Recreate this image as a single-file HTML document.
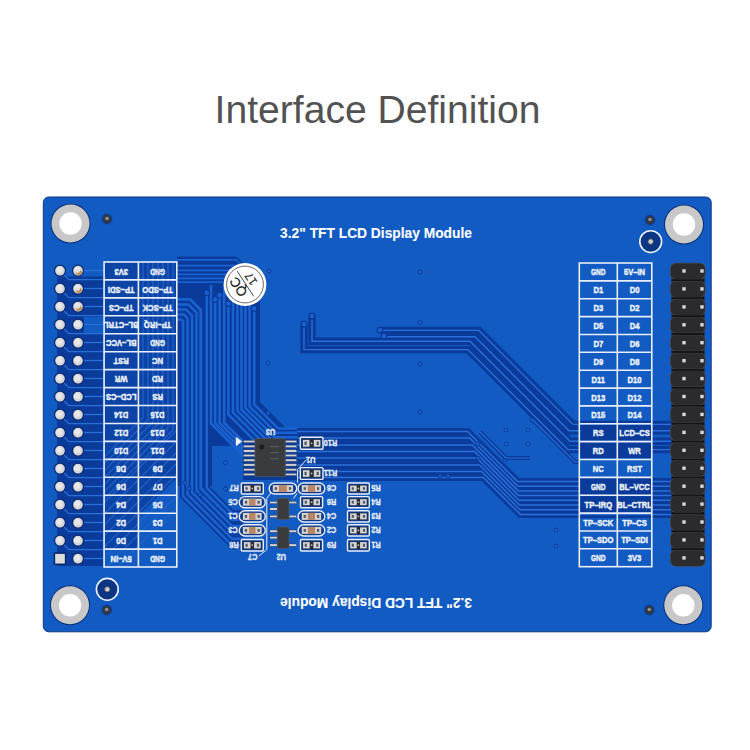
<!DOCTYPE html>
<html><head><meta charset="utf-8"><style>
html,body{margin:0;padding:0;background:#fff;width:750px;height:750px;overflow:hidden}
svg{display:block}
</style></head><body>
<svg width="750" height="750" viewBox="0 0 750 750">
<rect x="0" y="0" width="750" height="750" fill="#ffffff"/>
<text x="214.6" y="123" font-family="Liberation Sans" font-size="39.1" fill="#525252">Interface Definition</text>
<rect x="43.3" y="197.0" width="667.9" height="434.8" rx="5.5" fill="#125bc3" stroke="#0b3784" stroke-width="1.0"/>
<polygon points="57.0,276.5 103.0,276.5 103.0,566.0 57.0,566.0" fill="#0a3b9a"/>
<polygon points="84.0,317.0 103.0,317.0 103.0,334.0 84.0,334.0" fill="#125bc3"/>
<polygon points="177.0,256.5 236.0,256.5 252.0,271.0 260.0,290.0 260.0,402.0 287.0,429.0 300.0,429.0 300.0,480.0 243.0,480.0 243.0,446.0 212.0,446.0 212.0,486.0 177.0,486.0" fill="#0a3b9a"/>
<polyline points="206.8,292.8 206.8,488.0 232.0,513.2 244.0,513.2" fill="none" stroke="#0a3b9a" stroke-width="6.2" stroke-linejoin="miter" stroke-miterlimit="4" stroke-linecap="butt"/>
<polyline points="177.0,299.3 190.2,299.3 200.7,309.8 200.7,488.3 232.0,519.6 244.0,519.6" fill="none" stroke="#0a3b9a" stroke-width="6.2" stroke-linejoin="miter" stroke-miterlimit="4" stroke-linecap="butt"/>
<polyline points="177.0,304.4 188.3,304.4 196.5,312.6 196.5,490.5 232.0,526.0 244.0,526.0" fill="none" stroke="#0a3b9a" stroke-width="6.2" stroke-linejoin="miter" stroke-miterlimit="4" stroke-linecap="butt"/>
<polyline points="177.0,309.5 186.1,309.5 192.0,315.4 192.0,492.4 232.0,532.4 244.0,532.4" fill="none" stroke="#0a3b9a" stroke-width="6.2" stroke-linejoin="miter" stroke-miterlimit="4" stroke-linecap="butt"/>
<polyline points="177.0,314.6 183.9,314.6 187.5,318.2 187.5,494.3 232.0,538.8 244.0,538.8" fill="none" stroke="#0a3b9a" stroke-width="6.2" stroke-linejoin="miter" stroke-miterlimit="4" stroke-linecap="butt"/>
<polyline points="177.0,319.7 181.7,319.7 183.0,321.0 183.0,496.2 232.0,545.2 244.0,545.2" fill="none" stroke="#0a3b9a" stroke-width="6.2" stroke-linejoin="miter" stroke-miterlimit="4" stroke-linecap="butt"/>
<polyline points="254.2,308.4 254.2,404.4 278.2,428.4 300.0,428.4" fill="none" stroke="#1a62cf" stroke-width="2.5" stroke-linejoin="miter" stroke-miterlimit="4" stroke-linecap="butt"/>
<polyline points="249.6,285.0 249.6,406.4 276.1,432.8 300.0,432.8" fill="none" stroke="#1a62cf" stroke-width="2.5" stroke-linejoin="miter" stroke-miterlimit="4" stroke-linecap="butt"/>
<polyline points="245.4,285.0 245.4,408.0 274.7,437.3 300.0,437.3" fill="none" stroke="#1a62cf" stroke-width="2.5" stroke-linejoin="miter" stroke-miterlimit="4" stroke-linecap="butt"/>
<polyline points="241.4,285.0 241.4,409.4 273.8,441.8 300.0,441.8" fill="none" stroke="#1a62cf" stroke-width="2.5" stroke-linejoin="miter" stroke-miterlimit="4" stroke-linecap="butt"/>
<polyline points="237.4,285.0 237.4,410.8 272.8,446.2 300.0,446.2" fill="none" stroke="#1a62cf" stroke-width="2.5" stroke-linejoin="miter" stroke-miterlimit="4" stroke-linecap="butt"/>
<polyline points="233.0,285.0 233.0,412.6 271.1,450.6 300.0,450.6" fill="none" stroke="#1a62cf" stroke-width="2.5" stroke-linejoin="miter" stroke-miterlimit="4" stroke-linecap="butt"/>
<polyline points="228.4,303.6 228.4,414.6 268.9,455.1 300.0,455.1" fill="none" stroke="#1a62cf" stroke-width="2.5" stroke-linejoin="miter" stroke-miterlimit="4" stroke-linecap="butt"/>
<polyline points="224.2,285.0 224.2,422.7 243.0,441.5 250.0,441.5" fill="none" stroke="#1a62cf" stroke-width="2.5" stroke-linejoin="miter" stroke-miterlimit="4" stroke-linecap="butt"/>
<polyline points="219.6,295.2 219.6,422.9 243.0,446.3 250.0,446.3" fill="none" stroke="#1a62cf" stroke-width="2.5" stroke-linejoin="miter" stroke-miterlimit="4" stroke-linecap="butt"/>
<polyline points="215.2,299.4 215.2,423.2 243.0,451.0 250.0,451.0" fill="none" stroke="#1a62cf" stroke-width="2.5" stroke-linejoin="miter" stroke-miterlimit="4" stroke-linecap="butt"/>
<polyline points="211.0,285.0 211.0,423.5 243.0,455.5 250.0,455.5" fill="none" stroke="#1a62cf" stroke-width="2.5" stroke-linejoin="miter" stroke-miterlimit="4" stroke-linecap="butt"/>
<polyline points="206.8,292.8 206.8,488.0 232.0,513.2 244.0,513.2" fill="none" stroke="#1a62cf" stroke-width="2.5" stroke-linejoin="miter" stroke-miterlimit="4" stroke-linecap="butt"/>
<polyline points="177.0,299.3 190.2,299.3 200.7,309.8 200.7,488.3 232.0,519.6 244.0,519.6" fill="none" stroke="#1a62cf" stroke-width="2.8" stroke-linejoin="miter" stroke-miterlimit="4" stroke-linecap="butt"/>
<polyline points="177.0,304.4 188.3,304.4 196.5,312.6 196.5,490.5 232.0,526.0 244.0,526.0" fill="none" stroke="#1a62cf" stroke-width="2.5" stroke-linejoin="miter" stroke-miterlimit="4" stroke-linecap="butt"/>
<polyline points="177.0,309.5 186.1,309.5 192.0,315.4 192.0,492.4 232.0,532.4 244.0,532.4" fill="none" stroke="#1a62cf" stroke-width="2.5" stroke-linejoin="miter" stroke-miterlimit="4" stroke-linecap="butt"/>
<polyline points="177.0,314.6 183.9,314.6 187.5,318.2 187.5,494.3 232.0,538.8 244.0,538.8" fill="none" stroke="#1a62cf" stroke-width="2.5" stroke-linejoin="miter" stroke-miterlimit="4" stroke-linecap="butt"/>
<polyline points="177.0,319.7 181.7,319.7 183.0,321.0 183.0,496.2 232.0,545.2 244.0,545.2" fill="none" stroke="#1a62cf" stroke-width="2.5" stroke-linejoin="miter" stroke-miterlimit="4" stroke-linecap="butt"/>
<polyline points="177.0,259.8 236.0,259.8 254.2,278.0 254.2,300.0" fill="none" stroke="#1a62cf" stroke-width="1.7" stroke-linejoin="miter" stroke-miterlimit="4" stroke-linecap="butt"/>
<polyline points="177.0,265.6 236.0,265.6 249.6,279.2 249.6,300.0" fill="none" stroke="#1a62cf" stroke-width="1.7" stroke-linejoin="miter" stroke-miterlimit="4" stroke-linecap="butt"/>
<polyline points="177.0,270.4 236.0,270.4 245.4,279.8 245.4,300.0" fill="none" stroke="#1a62cf" stroke-width="1.7" stroke-linejoin="miter" stroke-miterlimit="4" stroke-linecap="butt"/>
<polyline points="177.0,274.4 236.0,274.4 241.4,279.8 241.4,300.0" fill="none" stroke="#1a62cf" stroke-width="1.7" stroke-linejoin="miter" stroke-miterlimit="4" stroke-linecap="butt"/>
<polyline points="177.0,278.4 236.0,278.4 237.4,279.8 237.4,300.0" fill="none" stroke="#1a62cf" stroke-width="1.7" stroke-linejoin="miter" stroke-miterlimit="4" stroke-linecap="butt"/>
<polyline points="177.0,282.2 236.0,282.2 233.0,279.2 233.0,300.0" fill="none" stroke="#1a62cf" stroke-width="1.7" stroke-linejoin="miter" stroke-miterlimit="4" stroke-linecap="butt"/>
<polyline points="297.0,431.5 467.5,431.5 517.5,481.5 672.0,481.5" fill="none" stroke="#0a3b9a" stroke-width="7.2" stroke-linejoin="miter" stroke-miterlimit="4" stroke-linecap="butt"/>
<polyline points="297.0,438.0 469.7,438.0 517.9,486.2 672.0,486.2" fill="none" stroke="#0a3b9a" stroke-width="7.2" stroke-linejoin="miter" stroke-miterlimit="4" stroke-linecap="butt"/>
<polyline points="297.0,445.0 472.4,445.0 518.3,490.9 672.0,490.9" fill="none" stroke="#0a3b9a" stroke-width="7.2" stroke-linejoin="miter" stroke-miterlimit="4" stroke-linecap="butt"/>
<polyline points="297.0,451.5 474.6,451.5 518.7,495.6 672.0,495.6" fill="none" stroke="#0a3b9a" stroke-width="7.2" stroke-linejoin="miter" stroke-miterlimit="4" stroke-linecap="butt"/>
<polyline points="297.0,458.0 476.8,458.0 519.1,500.3 672.0,500.3" fill="none" stroke="#0a3b9a" stroke-width="7.2" stroke-linejoin="miter" stroke-miterlimit="4" stroke-linecap="butt"/>
<polyline points="297.0,465.0 479.5,465.0 519.5,505.0 672.0,505.0" fill="none" stroke="#0a3b9a" stroke-width="7.2" stroke-linejoin="miter" stroke-miterlimit="4" stroke-linecap="butt"/>
<polyline points="297.0,471.5 481.7,471.5 519.9,509.7 672.0,509.7" fill="none" stroke="#0a3b9a" stroke-width="7.2" stroke-linejoin="miter" stroke-miterlimit="4" stroke-linecap="butt"/>
<polyline points="297.0,477.5 483.4,477.5 520.3,514.4 672.0,514.4" fill="none" stroke="#0a3b9a" stroke-width="7.2" stroke-linejoin="miter" stroke-miterlimit="4" stroke-linecap="butt"/>
<polyline points="297.0,431.5 467.5,431.5 517.5,481.5 672.0,481.5" fill="none" stroke="#2a70d8" stroke-width="1.5" stroke-linejoin="miter" stroke-miterlimit="4" stroke-linecap="butt"/>
<polyline points="297.0,438.0 469.7,438.0 517.9,486.2 672.0,486.2" fill="none" stroke="#2a70d8" stroke-width="1.5" stroke-linejoin="miter" stroke-miterlimit="4" stroke-linecap="butt"/>
<polyline points="297.0,445.0 472.4,445.0 518.3,490.9 672.0,490.9" fill="none" stroke="#2a70d8" stroke-width="1.5" stroke-linejoin="miter" stroke-miterlimit="4" stroke-linecap="butt"/>
<polyline points="297.0,451.5 474.6,451.5 518.7,495.6 672.0,495.6" fill="none" stroke="#2a70d8" stroke-width="1.5" stroke-linejoin="miter" stroke-miterlimit="4" stroke-linecap="butt"/>
<polyline points="297.0,458.0 476.8,458.0 519.1,500.3 672.0,500.3" fill="none" stroke="#2a70d8" stroke-width="1.5" stroke-linejoin="miter" stroke-miterlimit="4" stroke-linecap="butt"/>
<polyline points="297.0,465.0 479.5,465.0 519.5,505.0 672.0,505.0" fill="none" stroke="#2a70d8" stroke-width="1.5" stroke-linejoin="miter" stroke-miterlimit="4" stroke-linecap="butt"/>
<polyline points="297.0,471.5 481.7,471.5 519.9,509.7 672.0,509.7" fill="none" stroke="#2a70d8" stroke-width="1.5" stroke-linejoin="miter" stroke-miterlimit="4" stroke-linecap="butt"/>
<polyline points="297.0,477.5 483.4,477.5 520.3,514.4 672.0,514.4" fill="none" stroke="#2a70d8" stroke-width="1.5" stroke-linejoin="miter" stroke-miterlimit="4" stroke-linecap="butt"/>
<polyline points="380.0,330.4 479.0,330.4 573.0,424.4 672.0,424.4" fill="none" stroke="#0a3b9a" stroke-width="7.4" stroke-linejoin="miter" stroke-miterlimit="4" stroke-linecap="butt"/>
<polyline points="384.0,336.8 475.0,336.8 569.0,430.8 672.0,430.8" fill="none" stroke="#0a3b9a" stroke-width="7.4" stroke-linejoin="miter" stroke-miterlimit="4" stroke-linecap="butt"/>
<polyline points="312.0,316.0 312.0,341.2 470.0,341.2 570.0,441.2 672.0,441.2" fill="none" stroke="#0a3b9a" stroke-width="7.4" stroke-linejoin="miter" stroke-miterlimit="4" stroke-linecap="butt"/>
<polyline points="304.0,324.0 304.0,349.6 468.0,349.6 568.0,449.6 672.0,449.6" fill="none" stroke="#0a3b9a" stroke-width="7.4" stroke-linejoin="miter" stroke-miterlimit="4" stroke-linecap="butt"/>
<polyline points="380.0,330.4 479.0,330.4 573.0,424.4 672.0,424.4" fill="none" stroke="#2a70d8" stroke-width="1.4" stroke-linejoin="miter" stroke-miterlimit="4" stroke-linecap="butt"/>
<polyline points="384.0,336.8 475.0,336.8 569.0,430.8 672.0,430.8" fill="none" stroke="#2a70d8" stroke-width="1.4" stroke-linejoin="miter" stroke-miterlimit="4" stroke-linecap="butt"/>
<polyline points="312.0,316.0 312.0,341.2 470.0,341.2 570.0,441.2 672.0,441.2" fill="none" stroke="#2a70d8" stroke-width="1.4" stroke-linejoin="miter" stroke-miterlimit="4" stroke-linecap="butt"/>
<polyline points="304.0,324.0 304.0,349.6 468.0,349.6 568.0,449.6 672.0,449.6" fill="none" stroke="#2a70d8" stroke-width="1.4" stroke-linejoin="miter" stroke-miterlimit="4" stroke-linecap="butt"/>
<circle cx="206.8" cy="292.8" r="2.8" fill="#1a62cf" stroke="#0a3b9a" stroke-width="1.2"/>
<circle cx="215.2" cy="299.4" r="2.8" fill="#1a62cf" stroke="#0a3b9a" stroke-width="1.2"/>
<circle cx="219.6" cy="295.2" r="2.8" fill="#1a62cf" stroke="#0a3b9a" stroke-width="1.2"/>
<circle cx="228.4" cy="303.6" r="2.8" fill="#1a62cf" stroke="#0a3b9a" stroke-width="1.2"/>
<circle cx="254.2" cy="308.4" r="2.8" fill="#1a62cf" stroke="#0a3b9a" stroke-width="1.2"/>
<circle cx="312" cy="316" r="2.8" fill="#1a62cf" stroke="#0a3b9a" stroke-width="1.2"/>
<circle cx="304" cy="324" r="2.8" fill="#1a62cf" stroke="#0a3b9a" stroke-width="1.2"/>
<circle cx="380" cy="330" r="2.8" fill="#1a62cf" stroke="#0a3b9a" stroke-width="1.2"/>
<circle cx="384" cy="336" r="2.8" fill="#1a62cf" stroke="#0a3b9a" stroke-width="1.2"/>
<circle cx="420" cy="272" r="2.0" fill="#1a5fcc" stroke="#0b3d9c" stroke-width="1.0"/>
<circle cx="420" cy="322.5" r="2.0" fill="#1a5fcc" stroke="#0b3d9c" stroke-width="1.0"/>
<circle cx="420" cy="364" r="2.0" fill="#1a5fcc" stroke="#0b3d9c" stroke-width="1.0"/>
<circle cx="420" cy="412" r="2.0" fill="#1a5fcc" stroke="#0b3d9c" stroke-width="1.0"/>
<circle cx="506" cy="430" r="2.0" fill="#1a5fcc" stroke="#0b3d9c" stroke-width="1.0"/>
<circle cx="528" cy="430" r="2.0" fill="#1a5fcc" stroke="#0b3d9c" stroke-width="1.0"/>
<circle cx="506" cy="444" r="2.0" fill="#1a5fcc" stroke="#0b3d9c" stroke-width="1.0"/>
<circle cx="528" cy="444" r="2.0" fill="#1a5fcc" stroke="#0b3d9c" stroke-width="1.0"/>
<circle cx="556" cy="530" r="2.0" fill="#1a5fcc" stroke="#0b3d9c" stroke-width="1.0"/>
<circle cx="556" cy="546" r="2.0" fill="#1a5fcc" stroke="#0b3d9c" stroke-width="1.0"/>
<circle cx="532" cy="420" r="2.0" fill="#1a5fcc" stroke="#0b3d9c" stroke-width="1.0"/>
<circle cx="478" cy="444" r="2.0" fill="#1a5fcc" stroke="#0b3d9c" stroke-width="1.0"/>
<circle cx="478" cy="458" r="2.0" fill="#1a5fcc" stroke="#0b3d9c" stroke-width="1.0"/>
<circle cx="440" cy="476" r="2.0" fill="#1a5fcc" stroke="#0b3d9c" stroke-width="1.0"/>
<circle cx="448" cy="476" r="2.0" fill="#1a5fcc" stroke="#0b3d9c" stroke-width="1.0"/>
<circle cx="269" cy="271" r="2.0" fill="#1a5fcc" stroke="#0b3d9c" stroke-width="1.0"/>
<circle cx="268" cy="363" r="2.0" fill="#1a5fcc" stroke="#0b3d9c" stroke-width="1.0"/>
<circle cx="268" cy="413" r="2.0" fill="#1a5fcc" stroke="#0b3d9c" stroke-width="1.0"/>
<circle cx="225.5" cy="462.8" r="2.0" fill="#1a5fcc" stroke="#0b3d9c" stroke-width="1.0"/>
<circle cx="184.7" cy="482.7" r="2.0" fill="#1a5fcc" stroke="#0b3d9c" stroke-width="1.0"/>
<circle cx="189" cy="488.8" r="2.0" fill="#1a5fcc" stroke="#0b3d9c" stroke-width="1.0"/>
<circle cx="200.3" cy="494.8" r="2.0" fill="#1a5fcc" stroke="#0b3d9c" stroke-width="1.0"/>
<circle cx="225.5" cy="488.8" r="2.0" fill="#1a5fcc" stroke="#0b3d9c" stroke-width="1.0"/>
<circle cx="505" cy="459.5" r="2.0" fill="#1a5fcc" stroke="#0b3d9c" stroke-width="1.0"/>
<polyline points="533.0,420.0 575.0,462.0 579.0,462.0" fill="none" stroke="#0a3b9a" stroke-width="4.2" stroke-linejoin="miter" stroke-miterlimit="4" stroke-linecap="butt"/>
<polyline points="533.0,420.0 575.0,462.0 579.0,462.0" fill="none" stroke="#2a70d8" stroke-width="1.2" stroke-linejoin="miter" stroke-miterlimit="4" stroke-linecap="butt"/>
<polyline points="480.0,432.0 506.0,458.0 530.0,458.0" fill="none" stroke="#0a3b9a" stroke-width="4.2" stroke-linejoin="miter" stroke-miterlimit="4" stroke-linecap="butt"/>
<polyline points="480.0,432.0 506.0,458.0 530.0,458.0" fill="none" stroke="#2a70d8" stroke-width="1.2" stroke-linejoin="miter" stroke-miterlimit="4" stroke-linecap="butt"/>
<rect x="300.3" y="437.3" width="22.7" height="12.0" rx="1" fill="#0d3a8c" stroke="#e9eef8" stroke-width="1.4"/>
<rect x="302.3" y="439.4" width="18.7" height="7.8" fill="#2a2b30"/>
<rect x="302.9" y="439.9" width="6.6" height="6.8" fill="#d5d6d9"/>
<rect x="313.8" y="439.9" width="6.6" height="6.8" fill="#d5d6d9"/>
<rect x="304.5" y="441.5" width="2.2" height="3.6" fill="#55575c"/>
<rect x="316.6" y="441.5" width="2.2" height="3.6" fill="#55575c"/>
<circle cx="311.6" cy="443.3" r="0.9" fill="#bbb"/>
<text transform="translate(330.5,443.3) rotate(180) scale(0.85,1)" x="0" y="3.2" text-anchor="middle" font-family="Liberation Sans" font-weight="bold" font-size="8.8" fill="#e9eef8" stroke="#e9eef8" stroke-width="0.3">R10</text>
<rect x="300.3" y="467.6" width="22.7" height="11.8" rx="1" fill="#0d3a8c" stroke="#e9eef8" stroke-width="1.4"/>
<rect x="302.3" y="469.7" width="18.7" height="7.6" fill="#2a2b30"/>
<rect x="302.9" y="470.2" width="6.6" height="6.6" fill="#d5d6d9"/>
<rect x="313.8" y="470.2" width="6.6" height="6.6" fill="#d5d6d9"/>
<rect x="304.5" y="471.8" width="2.2" height="3.4" fill="#55575c"/>
<rect x="316.6" y="471.8" width="2.2" height="3.4" fill="#55575c"/>
<circle cx="311.6" cy="473.5" r="0.9" fill="#bbb"/>
<text transform="translate(330.5,473.5) rotate(180) scale(0.85,1)" x="0" y="3.2" text-anchor="middle" font-family="Liberation Sans" font-weight="bold" font-size="8.8" fill="#e9eef8" stroke="#e9eef8" stroke-width="0.3">R11</text>
<rect x="241.3" y="483.0" width="22.0" height="11.0" rx="1" fill="#0d3a8c" stroke="#e9eef8" stroke-width="1.4"/>
<rect x="243.3" y="485.1" width="18.0" height="6.8" fill="#2a2b30"/>
<rect x="243.9" y="485.6" width="6.6" height="5.8" fill="#d5d6d9"/>
<rect x="254.1" y="485.6" width="6.6" height="5.8" fill="#d5d6d9"/>
<rect x="245.5" y="487.2" width="2.2" height="2.6" fill="#55575c"/>
<rect x="256.9" y="487.2" width="2.2" height="2.6" fill="#55575c"/>
<circle cx="252.3" cy="488.5" r="0.9" fill="#bbb"/>
<text transform="translate(234.0,488.5) rotate(180) scale(0.85,1)" x="0" y="3.2" text-anchor="middle" font-family="Liberation Sans" font-weight="bold" font-size="8.8" fill="#e9eef8" stroke="#e9eef8" stroke-width="0.3">R7</text>
<rect x="269.2" y="483.0" width="27.5" height="11.0" rx="5.5" fill="#0d3a8c" stroke="#e9eef8" stroke-width="1.4"/>
<rect x="272.8" y="485.1" width="20.3" height="6.8" fill="#d3d1ce"/>
<rect x="279.0" y="485.1" width="7.9" height="6.8" fill="#b88666"/>
<rect x="274.8" y="487.2" width="2.2" height="2.6" fill="#55575c"/>
<rect x="288.9" y="487.2" width="2.2" height="2.6" fill="#55575c"/>
<rect x="298.1" y="483.0" width="26.7" height="11.0" rx="5.5" fill="#0d3a8c" stroke="#e9eef8" stroke-width="1.4"/>
<rect x="301.7" y="485.1" width="19.5" height="6.8" fill="#d3d1ce"/>
<rect x="307.9" y="485.1" width="7.1" height="6.8" fill="#b88666"/>
<rect x="303.7" y="487.2" width="2.2" height="2.6" fill="#55575c"/>
<rect x="317.0" y="487.2" width="2.2" height="2.6" fill="#55575c"/>
<text transform="translate(331.5,488.5) rotate(180) scale(0.85,1)" x="0" y="3.2" text-anchor="middle" font-family="Liberation Sans" font-weight="bold" font-size="8.8" fill="#e9eef8" stroke="#e9eef8" stroke-width="0.3">C6</text>
<rect x="347.5" y="483.0" width="21.8" height="11.0" rx="1" fill="#0d3a8c" stroke="#e9eef8" stroke-width="1.4"/>
<rect x="349.5" y="485.1" width="17.8" height="6.8" fill="#2a2b30"/>
<rect x="350.1" y="485.6" width="6.6" height="5.8" fill="#d5d6d9"/>
<rect x="360.1" y="485.6" width="6.6" height="5.8" fill="#d5d6d9"/>
<rect x="351.7" y="487.2" width="2.2" height="2.6" fill="#55575c"/>
<rect x="362.9" y="487.2" width="2.2" height="2.6" fill="#55575c"/>
<circle cx="358.4" cy="488.5" r="0.9" fill="#bbb"/>
<text transform="translate(376.0,488.5) rotate(180) scale(0.85,1)" x="0" y="3.2" text-anchor="middle" font-family="Liberation Sans" font-weight="bold" font-size="8.8" fill="#e9eef8" stroke="#e9eef8" stroke-width="0.3">R5</text>
<rect x="239.3" y="496.6" width="26.0" height="11.2" rx="5.6" fill="#0d3a8c" stroke="#e9eef8" stroke-width="1.4"/>
<rect x="242.9" y="498.7" width="18.8" height="7.0" fill="#d3d1ce"/>
<rect x="249.1" y="498.7" width="6.4" height="7.0" fill="#b88666"/>
<rect x="244.9" y="500.8" width="2.2" height="2.8" fill="#55575c"/>
<rect x="257.5" y="500.8" width="2.2" height="2.8" fill="#55575c"/>
<text transform="translate(233.0,502.2) rotate(180) scale(0.85,1)" x="0" y="3.2" text-anchor="middle" font-family="Liberation Sans" font-weight="bold" font-size="8.8" fill="#e9eef8" stroke="#e9eef8" stroke-width="0.3">C5</text>
<rect x="300.5" y="496.6" width="22.1" height="11.2" rx="1" fill="#0d3a8c" stroke="#e9eef8" stroke-width="1.4"/>
<rect x="302.5" y="498.7" width="18.1" height="7.0" fill="#2a2b30"/>
<rect x="303.1" y="499.2" width="6.6" height="6.0" fill="#d5d6d9"/>
<rect x="313.4" y="499.2" width="6.6" height="6.0" fill="#d5d6d9"/>
<rect x="304.7" y="500.8" width="2.2" height="2.8" fill="#55575c"/>
<rect x="316.2" y="500.8" width="2.2" height="2.8" fill="#55575c"/>
<circle cx="311.6" cy="502.2" r="0.9" fill="#bbb"/>
<text transform="translate(331.5,502.2) rotate(180) scale(0.85,1)" x="0" y="3.2" text-anchor="middle" font-family="Liberation Sans" font-weight="bold" font-size="8.8" fill="#e9eef8" stroke="#e9eef8" stroke-width="0.3">R6</text>
<rect x="347.5" y="496.6" width="21.8" height="11.2" rx="1" fill="#0d3a8c" stroke="#e9eef8" stroke-width="1.4"/>
<rect x="349.5" y="498.7" width="17.8" height="7.0" fill="#2a2b30"/>
<rect x="350.1" y="499.2" width="6.6" height="6.0" fill="#d5d6d9"/>
<rect x="360.1" y="499.2" width="6.6" height="6.0" fill="#d5d6d9"/>
<rect x="351.7" y="500.8" width="2.2" height="2.8" fill="#55575c"/>
<rect x="362.9" y="500.8" width="2.2" height="2.8" fill="#55575c"/>
<circle cx="358.4" cy="502.2" r="0.9" fill="#bbb"/>
<text transform="translate(376.0,502.2) rotate(180) scale(0.85,1)" x="0" y="3.2" text-anchor="middle" font-family="Liberation Sans" font-weight="bold" font-size="8.8" fill="#e9eef8" stroke="#e9eef8" stroke-width="0.3">R4</text>
<rect x="239.3" y="510.8" width="26.0" height="11.2" rx="5.6" fill="#0d3a8c" stroke="#e9eef8" stroke-width="1.4"/>
<rect x="242.9" y="512.9" width="18.8" height="7.0" fill="#d3d1ce"/>
<rect x="249.1" y="512.9" width="6.4" height="7.0" fill="#b88666"/>
<rect x="244.9" y="515.0" width="2.2" height="2.8" fill="#55575c"/>
<rect x="257.5" y="515.0" width="2.2" height="2.8" fill="#55575c"/>
<text transform="translate(233.0,516.4) rotate(180) scale(0.85,1)" x="0" y="3.2" text-anchor="middle" font-family="Liberation Sans" font-weight="bold" font-size="8.8" fill="#e9eef8" stroke="#e9eef8" stroke-width="0.3">C1</text>
<rect x="298.1" y="510.8" width="26.7" height="11.2" rx="5.6" fill="#0d3a8c" stroke="#e9eef8" stroke-width="1.4"/>
<rect x="301.7" y="512.9" width="19.5" height="7.0" fill="#d3d1ce"/>
<rect x="307.9" y="512.9" width="7.1" height="7.0" fill="#b88666"/>
<rect x="303.7" y="515.0" width="2.2" height="2.8" fill="#55575c"/>
<rect x="317.0" y="515.0" width="2.2" height="2.8" fill="#55575c"/>
<text transform="translate(331.5,516.4) rotate(180) scale(0.85,1)" x="0" y="3.2" text-anchor="middle" font-family="Liberation Sans" font-weight="bold" font-size="8.8" fill="#e9eef8" stroke="#e9eef8" stroke-width="0.3">C4</text>
<rect x="347.5" y="510.8" width="21.8" height="11.2" rx="1" fill="#0d3a8c" stroke="#e9eef8" stroke-width="1.4"/>
<rect x="349.5" y="512.9" width="17.8" height="7.0" fill="#2a2b30"/>
<rect x="350.1" y="513.4" width="6.6" height="6.0" fill="#d5d6d9"/>
<rect x="360.1" y="513.4" width="6.6" height="6.0" fill="#d5d6d9"/>
<rect x="351.7" y="515.0" width="2.2" height="2.8" fill="#55575c"/>
<rect x="362.9" y="515.0" width="2.2" height="2.8" fill="#55575c"/>
<circle cx="358.4" cy="516.4" r="0.9" fill="#bbb"/>
<text transform="translate(376.0,516.4) rotate(180) scale(0.85,1)" x="0" y="3.2" text-anchor="middle" font-family="Liberation Sans" font-weight="bold" font-size="8.8" fill="#e9eef8" stroke="#e9eef8" stroke-width="0.3">R3</text>
<rect x="239.3" y="524.8" width="26.0" height="11.2" rx="5.6" fill="#0d3a8c" stroke="#e9eef8" stroke-width="1.4"/>
<rect x="242.9" y="526.9" width="18.8" height="7.0" fill="#d3d1ce"/>
<rect x="249.1" y="526.9" width="6.4" height="7.0" fill="#b88666"/>
<rect x="244.9" y="529.0" width="2.2" height="2.8" fill="#55575c"/>
<rect x="257.5" y="529.0" width="2.2" height="2.8" fill="#55575c"/>
<text transform="translate(233.0,530.4) rotate(180) scale(0.85,1)" x="0" y="3.2" text-anchor="middle" font-family="Liberation Sans" font-weight="bold" font-size="8.8" fill="#e9eef8" stroke="#e9eef8" stroke-width="0.3">C3</text>
<rect x="298.1" y="524.8" width="26.7" height="11.2" rx="5.6" fill="#0d3a8c" stroke="#e9eef8" stroke-width="1.4"/>
<rect x="301.7" y="526.9" width="19.5" height="7.0" fill="#d3d1ce"/>
<rect x="307.9" y="526.9" width="7.1" height="7.0" fill="#b88666"/>
<rect x="303.7" y="529.0" width="2.2" height="2.8" fill="#55575c"/>
<rect x="317.0" y="529.0" width="2.2" height="2.8" fill="#55575c"/>
<text transform="translate(331.5,530.4) rotate(180) scale(0.85,1)" x="0" y="3.2" text-anchor="middle" font-family="Liberation Sans" font-weight="bold" font-size="8.8" fill="#e9eef8" stroke="#e9eef8" stroke-width="0.3">C2</text>
<rect x="347.5" y="524.8" width="21.8" height="11.2" rx="1" fill="#0d3a8c" stroke="#e9eef8" stroke-width="1.4"/>
<rect x="349.5" y="526.9" width="17.8" height="7.0" fill="#2a2b30"/>
<rect x="350.1" y="527.4" width="6.6" height="6.0" fill="#d5d6d9"/>
<rect x="360.1" y="527.4" width="6.6" height="6.0" fill="#d5d6d9"/>
<rect x="351.7" y="529.0" width="2.2" height="2.8" fill="#55575c"/>
<rect x="362.9" y="529.0" width="2.2" height="2.8" fill="#55575c"/>
<circle cx="358.4" cy="530.4" r="0.9" fill="#bbb"/>
<text transform="translate(376.0,530.4) rotate(180) scale(0.85,1)" x="0" y="3.2" text-anchor="middle" font-family="Liberation Sans" font-weight="bold" font-size="8.8" fill="#e9eef8" stroke="#e9eef8" stroke-width="0.3">R2</text>
<rect x="241.3" y="539.5" width="22.0" height="11.5" rx="1" fill="#0d3a8c" stroke="#e9eef8" stroke-width="1.4"/>
<rect x="243.3" y="541.6" width="18.0" height="7.3" fill="#2a2b30"/>
<rect x="243.9" y="542.1" width="6.6" height="6.3" fill="#d5d6d9"/>
<rect x="254.1" y="542.1" width="6.6" height="6.3" fill="#d5d6d9"/>
<rect x="245.5" y="543.7" width="2.2" height="3.1" fill="#55575c"/>
<rect x="256.9" y="543.7" width="2.2" height="3.1" fill="#55575c"/>
<circle cx="252.3" cy="545.2" r="0.9" fill="#bbb"/>
<text transform="translate(234.0,545.2) rotate(180) scale(0.85,1)" x="0" y="3.2" text-anchor="middle" font-family="Liberation Sans" font-weight="bold" font-size="8.8" fill="#e9eef8" stroke="#e9eef8" stroke-width="0.3">R8</text>
<rect x="300.5" y="539.5" width="22.1" height="11.5" rx="1" fill="#0d3a8c" stroke="#e9eef8" stroke-width="1.4"/>
<rect x="302.5" y="541.6" width="18.1" height="7.3" fill="#2a2b30"/>
<rect x="303.1" y="542.1" width="6.6" height="6.3" fill="#d5d6d9"/>
<rect x="313.4" y="542.1" width="6.6" height="6.3" fill="#d5d6d9"/>
<rect x="304.7" y="543.7" width="2.2" height="3.1" fill="#55575c"/>
<rect x="316.2" y="543.7" width="2.2" height="3.1" fill="#55575c"/>
<circle cx="311.6" cy="545.2" r="0.9" fill="#bbb"/>
<text transform="translate(331.5,545.2) rotate(180) scale(0.85,1)" x="0" y="3.2" text-anchor="middle" font-family="Liberation Sans" font-weight="bold" font-size="8.8" fill="#e9eef8" stroke="#e9eef8" stroke-width="0.3">R9</text>
<rect x="347.5" y="539.5" width="21.8" height="11.5" rx="1" fill="#0d3a8c" stroke="#e9eef8" stroke-width="1.4"/>
<rect x="349.5" y="541.6" width="17.8" height="7.3" fill="#2a2b30"/>
<rect x="350.1" y="542.1" width="6.6" height="6.3" fill="#d5d6d9"/>
<rect x="360.1" y="542.1" width="6.6" height="6.3" fill="#d5d6d9"/>
<rect x="351.7" y="543.7" width="2.2" height="3.1" fill="#55575c"/>
<rect x="362.9" y="543.7" width="2.2" height="3.1" fill="#55575c"/>
<circle cx="358.4" cy="545.2" r="0.9" fill="#bbb"/>
<text transform="translate(376.0,545.2) rotate(180) scale(0.85,1)" x="0" y="3.2" text-anchor="middle" font-family="Liberation Sans" font-weight="bold" font-size="8.8" fill="#e9eef8" stroke="#e9eef8" stroke-width="0.3">R1</text>
<text transform="translate(252.7,557.0) rotate(180) scale(0.85,1)" x="0" y="3.2" text-anchor="middle" font-family="Liberation Sans" font-weight="bold" font-size="8.8" fill="#e9eef8" stroke="#e9eef8" stroke-width="0.3">C7</text>
<text transform="translate(281.3,557.0) rotate(180) scale(0.85,1)" x="0" y="3.2" text-anchor="middle" font-family="Liberation Sans" font-weight="bold" font-size="8.8" fill="#e9eef8" stroke="#e9eef8" stroke-width="0.3">U2</text>
<text transform="translate(310.8,459.8) rotate(180) scale(0.85,1)" x="0" y="3.2" text-anchor="middle" font-family="Liberation Sans" font-weight="bold" font-size="8.8" fill="#e9eef8" stroke="#e9eef8" stroke-width="0.3">U1</text>
<text transform="translate(270.5,432.3) rotate(180) scale(0.85,1)" x="0" y="3.2" text-anchor="middle" font-family="Liberation Sans" font-weight="bold" font-size="8.8" fill="#e9eef8" stroke="#e9eef8" stroke-width="0.3">U3</text>
<polyline points="306.5,459.5 297.6,469.5 297.6,482.5" fill="none" stroke="#e9eef8" stroke-width="1.0" stroke-linejoin="miter" stroke-miterlimit="4" stroke-linecap="butt"/>
<polyline points="297.0,493.5 293.5,498.5" fill="none" stroke="#e9eef8" stroke-width="1.0" stroke-linejoin="miter" stroke-miterlimit="4" stroke-linecap="butt"/>
<polyline points="270.8,493.2 266.8,498.2 266.8,549.5 259.0,556.0" fill="none" stroke="#e9eef8" stroke-width="1.0" stroke-linejoin="miter" stroke-miterlimit="4" stroke-linecap="butt"/>
<rect x="243.5" y="440.3" width="11.5" height="2.4" fill="#d0d0d0" stroke="#1a2a50" stroke-width="0.4"/>
<rect x="243.5" y="445.1" width="11.5" height="2.4" fill="#d0d0d0" stroke="#1a2a50" stroke-width="0.4"/>
<rect x="243.5" y="449.8" width="11.5" height="2.4" fill="#d0d0d0" stroke="#1a2a50" stroke-width="0.4"/>
<rect x="243.5" y="454.3" width="11.5" height="2.4" fill="#d0d0d0" stroke="#1a2a50" stroke-width="0.4"/>
<rect x="243.5" y="459.0" width="11.5" height="2.4" fill="#d0d0d0" stroke="#1a2a50" stroke-width="0.4"/>
<rect x="243.5" y="463.7" width="11.5" height="2.4" fill="#d0d0d0" stroke="#1a2a50" stroke-width="0.4"/>
<rect x="243.5" y="468.5" width="11.5" height="2.4" fill="#d0d0d0" stroke="#1a2a50" stroke-width="0.4"/>
<rect x="243.5" y="473.2" width="11.5" height="2.4" fill="#d0d0d0" stroke="#1a2a50" stroke-width="0.4"/>
<rect x="285.2" y="440.3" width="11.5" height="2.4" fill="#d0d0d0" stroke="#1a2a50" stroke-width="0.4"/>
<rect x="285.2" y="445.1" width="11.5" height="2.4" fill="#d0d0d0" stroke="#1a2a50" stroke-width="0.4"/>
<rect x="285.2" y="449.8" width="11.5" height="2.4" fill="#d0d0d0" stroke="#1a2a50" stroke-width="0.4"/>
<rect x="285.2" y="454.3" width="11.5" height="2.4" fill="#d0d0d0" stroke="#1a2a50" stroke-width="0.4"/>
<rect x="285.2" y="459.0" width="11.5" height="2.4" fill="#d0d0d0" stroke="#1a2a50" stroke-width="0.4"/>
<rect x="285.2" y="463.7" width="11.5" height="2.4" fill="#d0d0d0" stroke="#1a2a50" stroke-width="0.4"/>
<rect x="285.2" y="468.5" width="11.5" height="2.4" fill="#d0d0d0" stroke="#1a2a50" stroke-width="0.4"/>
<rect x="285.2" y="473.2" width="11.5" height="2.4" fill="#d0d0d0" stroke="#1a2a50" stroke-width="0.4"/>
<rect x="255.0" y="438.5" width="30.2" height="38.2" rx="0.8" fill="#3a3b3f" stroke="#5a5c62" stroke-width="0.6"/>
<circle cx="261.8" cy="447.1" r="2.5" fill="#1c1d20"/>
<polygon points="235.9,436.8 235.9,446.3 242.2,441.5" fill="#f2f4f8"/>
<rect x="270.0" y="446.0" width="9" height="1.2" fill="#55575c"/>
<rect x="270.0" y="452.0" width="9" height="1.2" fill="#55575c"/>
<rect x="270.0" y="458.0" width="9" height="1.2" fill="#55575c"/>
<rect x="269.8" y="501.3" width="7.5" height="2.4" fill="#d0d0d0" stroke="#1a2a50" stroke-width="0.4"/>
<rect x="269.8" y="507.8" width="7.5" height="2.4" fill="#d0d0d0" stroke="#1a2a50" stroke-width="0.4"/>
<rect x="269.8" y="515.2" width="7.5" height="2.4" fill="#d0d0d0" stroke="#1a2a50" stroke-width="0.4"/>
<rect x="289.0" y="501.3" width="7.5" height="2.4" fill="#d0d0d0" stroke="#1a2a50" stroke-width="0.4"/>
<rect x="289.0" y="515.2" width="7.5" height="2.4" fill="#d0d0d0" stroke="#1a2a50" stroke-width="0.4"/>
<rect x="277.3" y="498.3" width="11.7" height="21.3" rx="0.8" fill="#3a3b3f" stroke="#5a5c62" stroke-width="0.6"/>
<rect x="269.8" y="530.0" width="7.5" height="2.4" fill="#d0d0d0" stroke="#1a2a50" stroke-width="0.4"/>
<rect x="269.8" y="536.5" width="7.5" height="2.4" fill="#d0d0d0" stroke="#1a2a50" stroke-width="0.4"/>
<rect x="269.8" y="543.9" width="7.5" height="2.4" fill="#d0d0d0" stroke="#1a2a50" stroke-width="0.4"/>
<rect x="289.0" y="530.0" width="7.5" height="2.4" fill="#d0d0d0" stroke="#1a2a50" stroke-width="0.4"/>
<rect x="289.0" y="543.9" width="7.5" height="2.4" fill="#d0d0d0" stroke="#1a2a50" stroke-width="0.4"/>
<rect x="277.3" y="527.0" width="11.7" height="21.4" rx="0.8" fill="#3a3b3f" stroke="#5a5c62" stroke-width="0.6"/>
<g transform="translate(245,284.5)"><circle r="21.4" fill="#ffffff"/><circle r="18.4" fill="none" stroke="#444" stroke-width="0.8"/><line x1="-7.7" y1="-13.2" x2="8.7" y2="11.8" stroke="#333" stroke-width="0.9"/><text transform="rotate(-124)" x="1.7" y="-2.2" text-anchor="middle" font-family="Liberation Sans" font-size="13.5" fill="#222" stroke="#222" stroke-width="0.2">QC</text><text transform="rotate(-124)" x="1.2" y="12" text-anchor="middle" font-family="Liberation Sans" font-size="11.5" fill="#222" stroke="#222" stroke-width="0.2">17</text></g>
<polyline points="77.6,270.5 104.0,270.5" fill="none" stroke="#2a6fd6" stroke-width="1.3" stroke-linejoin="miter" stroke-miterlimit="4" stroke-linecap="butt"/>
<polyline points="59.6,270.5 68.8,279.7 104.0,279.7" fill="none" stroke="#2a6fd6" stroke-width="1.3" stroke-linejoin="miter" stroke-miterlimit="4" stroke-linecap="butt"/>
<polyline points="77.6,288.5 104.0,288.5" fill="none" stroke="#2a6fd6" stroke-width="1.3" stroke-linejoin="miter" stroke-miterlimit="4" stroke-linecap="butt"/>
<polyline points="59.6,288.5 68.8,297.7 104.0,297.7" fill="none" stroke="#2a6fd6" stroke-width="1.3" stroke-linejoin="miter" stroke-miterlimit="4" stroke-linecap="butt"/>
<polyline points="77.6,306.5 104.0,306.5" fill="none" stroke="#2a6fd6" stroke-width="1.3" stroke-linejoin="miter" stroke-miterlimit="4" stroke-linecap="butt"/>
<polyline points="59.6,306.5 68.8,315.7 104.0,315.7" fill="none" stroke="#2a6fd6" stroke-width="1.3" stroke-linejoin="miter" stroke-miterlimit="4" stroke-linecap="butt"/>
<polyline points="77.6,324.5 104.0,324.5" fill="none" stroke="#2a6fd6" stroke-width="1.3" stroke-linejoin="miter" stroke-miterlimit="4" stroke-linecap="butt"/>
<polyline points="59.6,324.5 68.8,333.7 104.0,333.7" fill="none" stroke="#2a6fd6" stroke-width="1.3" stroke-linejoin="miter" stroke-miterlimit="4" stroke-linecap="butt"/>
<polyline points="77.6,342.5 104.0,342.5" fill="none" stroke="#2a6fd6" stroke-width="1.3" stroke-linejoin="miter" stroke-miterlimit="4" stroke-linecap="butt"/>
<polyline points="59.6,342.5 68.8,351.7 104.0,351.7" fill="none" stroke="#2a6fd6" stroke-width="1.3" stroke-linejoin="miter" stroke-miterlimit="4" stroke-linecap="butt"/>
<polyline points="77.6,360.5 104.0,360.5" fill="none" stroke="#2a6fd6" stroke-width="1.3" stroke-linejoin="miter" stroke-miterlimit="4" stroke-linecap="butt"/>
<polyline points="59.6,360.5 68.8,369.7 104.0,369.7" fill="none" stroke="#2a6fd6" stroke-width="1.3" stroke-linejoin="miter" stroke-miterlimit="4" stroke-linecap="butt"/>
<polyline points="77.6,378.5 104.0,378.5" fill="none" stroke="#2a6fd6" stroke-width="1.3" stroke-linejoin="miter" stroke-miterlimit="4" stroke-linecap="butt"/>
<polyline points="59.6,378.5 68.8,387.7 104.0,387.7" fill="none" stroke="#2a6fd6" stroke-width="1.3" stroke-linejoin="miter" stroke-miterlimit="4" stroke-linecap="butt"/>
<polyline points="77.6,396.5 104.0,396.5" fill="none" stroke="#2a6fd6" stroke-width="1.3" stroke-linejoin="miter" stroke-miterlimit="4" stroke-linecap="butt"/>
<polyline points="59.6,396.5 68.8,405.7 104.0,405.7" fill="none" stroke="#2a6fd6" stroke-width="1.3" stroke-linejoin="miter" stroke-miterlimit="4" stroke-linecap="butt"/>
<polyline points="77.6,414.5 104.0,414.5" fill="none" stroke="#2a6fd6" stroke-width="1.3" stroke-linejoin="miter" stroke-miterlimit="4" stroke-linecap="butt"/>
<polyline points="59.6,414.5 68.8,423.7 104.0,423.7" fill="none" stroke="#2a6fd6" stroke-width="1.3" stroke-linejoin="miter" stroke-miterlimit="4" stroke-linecap="butt"/>
<polyline points="77.6,432.5 104.0,432.5" fill="none" stroke="#2a6fd6" stroke-width="1.3" stroke-linejoin="miter" stroke-miterlimit="4" stroke-linecap="butt"/>
<polyline points="59.6,432.5 68.8,441.7 104.0,441.7" fill="none" stroke="#2a6fd6" stroke-width="1.3" stroke-linejoin="miter" stroke-miterlimit="4" stroke-linecap="butt"/>
<polyline points="77.6,450.5 104.0,450.5" fill="none" stroke="#2a6fd6" stroke-width="1.3" stroke-linejoin="miter" stroke-miterlimit="4" stroke-linecap="butt"/>
<polyline points="59.6,450.5 68.8,459.7 104.0,459.7" fill="none" stroke="#2a6fd6" stroke-width="1.3" stroke-linejoin="miter" stroke-miterlimit="4" stroke-linecap="butt"/>
<polyline points="77.6,468.5 104.0,468.5" fill="none" stroke="#2a6fd6" stroke-width="1.3" stroke-linejoin="miter" stroke-miterlimit="4" stroke-linecap="butt"/>
<polyline points="59.6,468.5 68.8,477.7 104.0,477.7" fill="none" stroke="#2a6fd6" stroke-width="1.3" stroke-linejoin="miter" stroke-miterlimit="4" stroke-linecap="butt"/>
<polyline points="77.6,486.5 104.0,486.5" fill="none" stroke="#2a6fd6" stroke-width="1.3" stroke-linejoin="miter" stroke-miterlimit="4" stroke-linecap="butt"/>
<polyline points="59.6,486.5 68.8,495.7 104.0,495.7" fill="none" stroke="#2a6fd6" stroke-width="1.3" stroke-linejoin="miter" stroke-miterlimit="4" stroke-linecap="butt"/>
<polyline points="77.6,504.5 104.0,504.5" fill="none" stroke="#2a6fd6" stroke-width="1.3" stroke-linejoin="miter" stroke-miterlimit="4" stroke-linecap="butt"/>
<polyline points="59.6,504.5 68.8,513.7 104.0,513.7" fill="none" stroke="#2a6fd6" stroke-width="1.3" stroke-linejoin="miter" stroke-miterlimit="4" stroke-linecap="butt"/>
<polyline points="77.6,522.5 104.0,522.5" fill="none" stroke="#2a6fd6" stroke-width="1.3" stroke-linejoin="miter" stroke-miterlimit="4" stroke-linecap="butt"/>
<polyline points="59.6,522.5 68.8,531.7 104.0,531.7" fill="none" stroke="#2a6fd6" stroke-width="1.3" stroke-linejoin="miter" stroke-miterlimit="4" stroke-linecap="butt"/>
<polyline points="77.6,540.5 104.0,540.5" fill="none" stroke="#2a6fd6" stroke-width="1.3" stroke-linejoin="miter" stroke-miterlimit="4" stroke-linecap="butt"/>
<polyline points="59.6,540.5 68.8,549.7 104.0,549.7" fill="none" stroke="#2a6fd6" stroke-width="1.3" stroke-linejoin="miter" stroke-miterlimit="4" stroke-linecap="butt"/>
<polyline points="77.6,558.5 104.0,558.5" fill="none" stroke="#2a6fd6" stroke-width="1.3" stroke-linejoin="miter" stroke-miterlimit="4" stroke-linecap="butt"/>
<circle cx="60.0" cy="270.7" r="5.5" fill="#d6d6da" stroke="#0a2a70" stroke-width="1.3"/>
<circle cx="59.3" cy="270.0" r="3.0" fill="#ececef" opacity="0.8"/>
<circle cx="78.0" cy="270.7" r="5.5" fill="#d6d6da" stroke="#0a2a70" stroke-width="1.3"/>
<ellipse cx="78.6" cy="272.3" rx="3.2" ry="2.4" fill="#b98a4a"/>
<circle cx="77.3" cy="270.0" r="3.0" fill="#ececef" opacity="0.8"/>
<circle cx="60.0" cy="288.7" r="5.5" fill="#d6d6da" stroke="#0a2a70" stroke-width="1.3"/>
<circle cx="59.3" cy="288.0" r="3.0" fill="#ececef" opacity="0.8"/>
<circle cx="78.0" cy="288.7" r="5.5" fill="#d6d6da" stroke="#0a2a70" stroke-width="1.3"/>
<ellipse cx="78.6" cy="290.3" rx="3.2" ry="2.4" fill="#b98a4a"/>
<circle cx="77.3" cy="288.0" r="3.0" fill="#ececef" opacity="0.8"/>
<circle cx="60.0" cy="306.7" r="5.5" fill="#d6d6da" stroke="#0a2a70" stroke-width="1.3"/>
<circle cx="59.3" cy="306.0" r="3.0" fill="#ececef" opacity="0.8"/>
<circle cx="78.0" cy="306.7" r="5.5" fill="#d6d6da" stroke="#0a2a70" stroke-width="1.3"/>
<ellipse cx="78.6" cy="308.3" rx="3.2" ry="2.4" fill="#b98a4a"/>
<circle cx="77.3" cy="306.0" r="3.0" fill="#ececef" opacity="0.8"/>
<circle cx="60.0" cy="324.7" r="5.5" fill="#d6d6da" stroke="#0a2a70" stroke-width="1.3"/>
<circle cx="59.3" cy="324.0" r="3.0" fill="#ececef" opacity="0.8"/>
<circle cx="78.0" cy="324.7" r="5.5" fill="#d6d6da" stroke="#0a2a70" stroke-width="1.3"/>
<circle cx="77.3" cy="324.0" r="3.0" fill="#ececef" opacity="0.8"/>
<circle cx="60.0" cy="342.7" r="5.5" fill="#d6d6da" stroke="#0a2a70" stroke-width="1.3"/>
<circle cx="59.3" cy="342.0" r="3.0" fill="#ececef" opacity="0.8"/>
<circle cx="78.0" cy="342.7" r="5.5" fill="#d6d6da" stroke="#0a2a70" stroke-width="1.3"/>
<circle cx="77.3" cy="342.0" r="3.0" fill="#ececef" opacity="0.8"/>
<circle cx="60.0" cy="360.7" r="5.5" fill="#d6d6da" stroke="#0a2a70" stroke-width="1.3"/>
<circle cx="59.3" cy="360.0" r="3.0" fill="#ececef" opacity="0.8"/>
<circle cx="78.0" cy="360.7" r="5.5" fill="#d6d6da" stroke="#0a2a70" stroke-width="1.3"/>
<circle cx="77.3" cy="360.0" r="3.0" fill="#ececef" opacity="0.8"/>
<circle cx="60.0" cy="378.7" r="5.5" fill="#d6d6da" stroke="#0a2a70" stroke-width="1.3"/>
<circle cx="59.3" cy="378.0" r="3.0" fill="#ececef" opacity="0.8"/>
<circle cx="78.0" cy="378.7" r="5.5" fill="#d6d6da" stroke="#0a2a70" stroke-width="1.3"/>
<circle cx="77.3" cy="378.0" r="3.0" fill="#ececef" opacity="0.8"/>
<circle cx="60.0" cy="396.7" r="5.5" fill="#d6d6da" stroke="#0a2a70" stroke-width="1.3"/>
<circle cx="59.3" cy="396.0" r="3.0" fill="#ececef" opacity="0.8"/>
<circle cx="78.0" cy="396.7" r="5.5" fill="#d6d6da" stroke="#0a2a70" stroke-width="1.3"/>
<circle cx="77.3" cy="396.0" r="3.0" fill="#ececef" opacity="0.8"/>
<circle cx="60.0" cy="414.7" r="5.5" fill="#d6d6da" stroke="#0a2a70" stroke-width="1.3"/>
<circle cx="59.3" cy="414.0" r="3.0" fill="#ececef" opacity="0.8"/>
<circle cx="78.0" cy="414.7" r="5.5" fill="#d6d6da" stroke="#0a2a70" stroke-width="1.3"/>
<circle cx="77.3" cy="414.0" r="3.0" fill="#ececef" opacity="0.8"/>
<circle cx="60.0" cy="432.7" r="5.5" fill="#d6d6da" stroke="#0a2a70" stroke-width="1.3"/>
<circle cx="59.3" cy="432.0" r="3.0" fill="#ececef" opacity="0.8"/>
<circle cx="78.0" cy="432.7" r="5.5" fill="#d6d6da" stroke="#0a2a70" stroke-width="1.3"/>
<circle cx="77.3" cy="432.0" r="3.0" fill="#ececef" opacity="0.8"/>
<circle cx="60.0" cy="450.7" r="5.5" fill="#d6d6da" stroke="#0a2a70" stroke-width="1.3"/>
<circle cx="59.3" cy="450.0" r="3.0" fill="#ececef" opacity="0.8"/>
<circle cx="78.0" cy="450.7" r="5.5" fill="#d6d6da" stroke="#0a2a70" stroke-width="1.3"/>
<circle cx="77.3" cy="450.0" r="3.0" fill="#ececef" opacity="0.8"/>
<circle cx="60.0" cy="468.7" r="5.5" fill="#d6d6da" stroke="#0a2a70" stroke-width="1.3"/>
<circle cx="59.3" cy="468.0" r="3.0" fill="#ececef" opacity="0.8"/>
<circle cx="78.0" cy="468.7" r="5.5" fill="#d6d6da" stroke="#0a2a70" stroke-width="1.3"/>
<circle cx="77.3" cy="468.0" r="3.0" fill="#ececef" opacity="0.8"/>
<circle cx="60.0" cy="486.7" r="5.5" fill="#d6d6da" stroke="#0a2a70" stroke-width="1.3"/>
<circle cx="59.3" cy="486.0" r="3.0" fill="#ececef" opacity="0.8"/>
<circle cx="78.0" cy="486.7" r="5.5" fill="#d6d6da" stroke="#0a2a70" stroke-width="1.3"/>
<circle cx="77.3" cy="486.0" r="3.0" fill="#ececef" opacity="0.8"/>
<circle cx="60.0" cy="504.7" r="5.5" fill="#d6d6da" stroke="#0a2a70" stroke-width="1.3"/>
<circle cx="59.3" cy="504.0" r="3.0" fill="#ececef" opacity="0.8"/>
<circle cx="78.0" cy="504.7" r="5.5" fill="#d6d6da" stroke="#0a2a70" stroke-width="1.3"/>
<circle cx="77.3" cy="504.0" r="3.0" fill="#ececef" opacity="0.8"/>
<circle cx="60.0" cy="522.7" r="5.5" fill="#d6d6da" stroke="#0a2a70" stroke-width="1.3"/>
<circle cx="59.3" cy="522.0" r="3.0" fill="#ececef" opacity="0.8"/>
<circle cx="78.0" cy="522.7" r="5.5" fill="#d6d6da" stroke="#0a2a70" stroke-width="1.3"/>
<circle cx="77.3" cy="522.0" r="3.0" fill="#ececef" opacity="0.8"/>
<circle cx="60.0" cy="540.7" r="5.5" fill="#d6d6da" stroke="#0a2a70" stroke-width="1.3"/>
<circle cx="59.3" cy="540.0" r="3.0" fill="#ececef" opacity="0.8"/>
<circle cx="78.0" cy="540.7" r="5.5" fill="#d6d6da" stroke="#0a2a70" stroke-width="1.3"/>
<circle cx="77.3" cy="540.0" r="3.0" fill="#ececef" opacity="0.8"/>
<rect x="54.4" y="553.1" width="11.2" height="11.2" fill="#dcdcdc" stroke="#0a2a70" stroke-width="1.6"/>
<circle cx="78.0" cy="558.7" r="5.5" fill="#d6d6da" stroke="#0a2a70" stroke-width="1.3"/>
<circle cx="77.3" cy="558.0" r="3.0" fill="#ececef" opacity="0.8"/>
<circle cx="70.5" cy="223.5" r="20.0" fill="#0a3078"/>
<circle cx="70.5" cy="223.5" r="19" fill="#c8c8c8"/>
<circle cx="70.5" cy="223.5" r="11.2" fill="#ffffff"/>
<circle cx="684" cy="224.5" r="20.0" fill="#0a3078"/>
<circle cx="684" cy="224.5" r="19" fill="#c8c8c8"/>
<circle cx="684" cy="224.5" r="11.2" fill="#ffffff"/>
<circle cx="70" cy="605.3" r="20.0" fill="#0a3078"/>
<circle cx="70" cy="605.3" r="19" fill="#c8c8c8"/>
<circle cx="70" cy="605.3" r="11.2" fill="#ffffff"/>
<circle cx="683.3" cy="605.3" r="20.0" fill="#0a3078"/>
<circle cx="683.3" cy="605.3" r="19" fill="#c8c8c8"/>
<circle cx="683.3" cy="605.3" r="11.2" fill="#ffffff"/>
<circle cx="107" cy="219" r="5.4" fill="#0f3f96"/>
<circle cx="107" cy="219" r="4.3" fill="#33373f"/>
<circle cx="107" cy="218.5" r="1.8" fill="#8a8f98"/>
<circle cx="650" cy="220" r="5.4" fill="#0f3f96"/>
<circle cx="650" cy="220" r="4.3" fill="#33373f"/>
<circle cx="650" cy="219.5" r="1.8" fill="#8a8f98"/>
<circle cx="106.7" cy="610" r="5.4" fill="#0f3f96"/>
<circle cx="106.7" cy="610" r="4.3" fill="#33373f"/>
<circle cx="106.7" cy="609.5" r="1.8" fill="#8a8f98"/>
<circle cx="649.3" cy="610" r="5.4" fill="#0f3f96"/>
<circle cx="649.3" cy="610" r="4.3" fill="#33373f"/>
<circle cx="649.3" cy="609.5" r="1.8" fill="#8a8f98"/>
<circle cx="650.7" cy="241.6" r="10.9" fill="#0b3585" stroke="#eef3fb" stroke-width="1.6"/>
<circle cx="650.7" cy="241.6" r="2.8" fill="#c9ccd2" stroke="#333" stroke-width="0.8"/>
<circle cx="107.3" cy="589.3" r="10.9" fill="#0b3585" stroke="#eef3fb" stroke-width="1.6"/>
<circle cx="107.3" cy="589.3" r="2.8" fill="#c9ccd2" stroke="#333" stroke-width="0.8"/>
<rect x="580.3" y="425.3" width="70.5" height="14.9" fill="#0a3b9a"/>
<rect x="580.3" y="443.1" width="70.5" height="14.9" fill="#0a3b9a"/>
<rect x="580.3" y="478.9" width="70.5" height="14.9" fill="#0a3b9a"/>
<rect x="580.3" y="496.7" width="70.5" height="14.9" fill="#0a3b9a"/>
<rect x="579.3" y="263.0" width="72.5" height="303.7" fill="none" stroke="#e9eef8" stroke-width="1.6"/>
<line x1="617.3" y1="263.0" x2="617.3" y2="566.7" stroke="#e9eef8" stroke-width="1.6"/>
<line x1="579.3" y1="280.9" x2="651.8" y2="280.9" stroke="#e9eef8" stroke-width="1.6"/>
<line x1="579.3" y1="298.7" x2="651.8" y2="298.7" stroke="#e9eef8" stroke-width="1.6"/>
<line x1="579.3" y1="316.6" x2="651.8" y2="316.6" stroke="#e9eef8" stroke-width="1.6"/>
<line x1="579.3" y1="334.5" x2="651.8" y2="334.5" stroke="#e9eef8" stroke-width="1.6"/>
<line x1="579.3" y1="352.3" x2="651.8" y2="352.3" stroke="#e9eef8" stroke-width="1.6"/>
<line x1="579.3" y1="370.2" x2="651.8" y2="370.2" stroke="#e9eef8" stroke-width="1.6"/>
<line x1="579.3" y1="388.1" x2="651.8" y2="388.1" stroke="#e9eef8" stroke-width="1.6"/>
<line x1="579.3" y1="405.9" x2="651.8" y2="405.9" stroke="#e9eef8" stroke-width="1.6"/>
<line x1="579.3" y1="423.8" x2="651.8" y2="423.8" stroke="#e9eef8" stroke-width="1.6"/>
<line x1="579.3" y1="441.6" x2="651.8" y2="441.6" stroke="#e9eef8" stroke-width="1.6"/>
<line x1="579.3" y1="459.5" x2="651.8" y2="459.5" stroke="#e9eef8" stroke-width="1.6"/>
<line x1="579.3" y1="477.4" x2="651.8" y2="477.4" stroke="#e9eef8" stroke-width="1.6"/>
<line x1="579.3" y1="495.2" x2="651.8" y2="495.2" stroke="#e9eef8" stroke-width="1.6"/>
<line x1="579.3" y1="513.1" x2="651.8" y2="513.1" stroke="#e9eef8" stroke-width="1.6"/>
<line x1="579.3" y1="531.0" x2="651.8" y2="531.0" stroke="#e9eef8" stroke-width="1.6"/>
<line x1="579.3" y1="548.8" x2="651.8" y2="548.8" stroke="#e9eef8" stroke-width="1.6"/>
<text transform="translate(598.3,272.1) scale(0.72,1)" x="0" y="3.3" text-anchor="middle" font-family="Liberation Sans" font-weight="bold" font-size="9.2" fill="#eef3fb" stroke="#eef3fb" stroke-width="0.45">GND</text>
<text transform="translate(634.5,272.1) scale(0.83,1)" x="0" y="3.3" text-anchor="middle" font-family="Liberation Sans" font-weight="bold" font-size="9.2" fill="#eef3fb" stroke="#eef3fb" stroke-width="0.45">5V–IN</text>
<text transform="translate(598.3,290.0) scale(0.83,1)" x="0" y="3.3" text-anchor="middle" font-family="Liberation Sans" font-weight="bold" font-size="9.2" fill="#eef3fb" stroke="#eef3fb" stroke-width="0.45">D1</text>
<text transform="translate(634.5,290.0) scale(0.83,1)" x="0" y="3.3" text-anchor="middle" font-family="Liberation Sans" font-weight="bold" font-size="9.2" fill="#eef3fb" stroke="#eef3fb" stroke-width="0.45">D0</text>
<text transform="translate(598.3,307.9) scale(0.83,1)" x="0" y="3.3" text-anchor="middle" font-family="Liberation Sans" font-weight="bold" font-size="9.2" fill="#eef3fb" stroke="#eef3fb" stroke-width="0.45">D3</text>
<text transform="translate(634.5,307.9) scale(0.83,1)" x="0" y="3.3" text-anchor="middle" font-family="Liberation Sans" font-weight="bold" font-size="9.2" fill="#eef3fb" stroke="#eef3fb" stroke-width="0.45">D2</text>
<text transform="translate(598.3,325.7) scale(0.83,1)" x="0" y="3.3" text-anchor="middle" font-family="Liberation Sans" font-weight="bold" font-size="9.2" fill="#eef3fb" stroke="#eef3fb" stroke-width="0.45">D5</text>
<text transform="translate(634.5,325.7) scale(0.83,1)" x="0" y="3.3" text-anchor="middle" font-family="Liberation Sans" font-weight="bold" font-size="9.2" fill="#eef3fb" stroke="#eef3fb" stroke-width="0.45">D4</text>
<text transform="translate(598.3,343.6) scale(0.83,1)" x="0" y="3.3" text-anchor="middle" font-family="Liberation Sans" font-weight="bold" font-size="9.2" fill="#eef3fb" stroke="#eef3fb" stroke-width="0.45">D7</text>
<text transform="translate(634.5,343.6) scale(0.83,1)" x="0" y="3.3" text-anchor="middle" font-family="Liberation Sans" font-weight="bold" font-size="9.2" fill="#eef3fb" stroke="#eef3fb" stroke-width="0.45">D6</text>
<text transform="translate(598.3,361.5) scale(0.83,1)" x="0" y="3.3" text-anchor="middle" font-family="Liberation Sans" font-weight="bold" font-size="9.2" fill="#eef3fb" stroke="#eef3fb" stroke-width="0.45">D9</text>
<text transform="translate(634.5,361.5) scale(0.83,1)" x="0" y="3.3" text-anchor="middle" font-family="Liberation Sans" font-weight="bold" font-size="9.2" fill="#eef3fb" stroke="#eef3fb" stroke-width="0.45">D8</text>
<text transform="translate(598.3,379.3) scale(0.83,1)" x="0" y="3.3" text-anchor="middle" font-family="Liberation Sans" font-weight="bold" font-size="9.2" fill="#eef3fb" stroke="#eef3fb" stroke-width="0.45">D11</text>
<text transform="translate(634.5,379.3) scale(0.83,1)" x="0" y="3.3" text-anchor="middle" font-family="Liberation Sans" font-weight="bold" font-size="9.2" fill="#eef3fb" stroke="#eef3fb" stroke-width="0.45">D10</text>
<text transform="translate(598.3,397.2) scale(0.83,1)" x="0" y="3.3" text-anchor="middle" font-family="Liberation Sans" font-weight="bold" font-size="9.2" fill="#eef3fb" stroke="#eef3fb" stroke-width="0.45">D13</text>
<text transform="translate(634.5,397.2) scale(0.83,1)" x="0" y="3.3" text-anchor="middle" font-family="Liberation Sans" font-weight="bold" font-size="9.2" fill="#eef3fb" stroke="#eef3fb" stroke-width="0.45">D12</text>
<text transform="translate(598.3,415.1) scale(0.83,1)" x="0" y="3.3" text-anchor="middle" font-family="Liberation Sans" font-weight="bold" font-size="9.2" fill="#eef3fb" stroke="#eef3fb" stroke-width="0.45">D15</text>
<text transform="translate(634.5,415.1) scale(0.83,1)" x="0" y="3.3" text-anchor="middle" font-family="Liberation Sans" font-weight="bold" font-size="9.2" fill="#eef3fb" stroke="#eef3fb" stroke-width="0.45">D14</text>
<text transform="translate(598.3,432.9) scale(0.83,1)" x="0" y="3.3" text-anchor="middle" font-family="Liberation Sans" font-weight="bold" font-size="9.2" fill="#eef3fb" stroke="#eef3fb" stroke-width="0.45">RS</text>
<text transform="translate(634.5,432.9) scale(0.83,1)" x="0" y="3.3" text-anchor="middle" font-family="Liberation Sans" font-weight="bold" font-size="9.2" fill="#eef3fb" stroke="#eef3fb" stroke-width="0.45">LCD–CS</text>
<text transform="translate(598.3,450.8) scale(0.83,1)" x="0" y="3.3" text-anchor="middle" font-family="Liberation Sans" font-weight="bold" font-size="9.2" fill="#eef3fb" stroke="#eef3fb" stroke-width="0.45">RD</text>
<text transform="translate(634.5,450.8) scale(0.83,1)" x="0" y="3.3" text-anchor="middle" font-family="Liberation Sans" font-weight="bold" font-size="9.2" fill="#eef3fb" stroke="#eef3fb" stroke-width="0.45">WR</text>
<text transform="translate(598.3,468.6) scale(0.83,1)" x="0" y="3.3" text-anchor="middle" font-family="Liberation Sans" font-weight="bold" font-size="9.2" fill="#eef3fb" stroke="#eef3fb" stroke-width="0.45">NC</text>
<text transform="translate(634.5,468.6) scale(0.83,1)" x="0" y="3.3" text-anchor="middle" font-family="Liberation Sans" font-weight="bold" font-size="9.2" fill="#eef3fb" stroke="#eef3fb" stroke-width="0.45">RST</text>
<text transform="translate(598.3,486.5) scale(0.72,1)" x="0" y="3.3" text-anchor="middle" font-family="Liberation Sans" font-weight="bold" font-size="9.2" fill="#eef3fb" stroke="#eef3fb" stroke-width="0.45">GND</text>
<text transform="translate(634.5,486.5) scale(0.83,1)" x="0" y="3.3" text-anchor="middle" font-family="Liberation Sans" font-weight="bold" font-size="9.2" fill="#eef3fb" stroke="#eef3fb" stroke-width="0.45">BL–VCC</text>
<text transform="translate(598.3,504.4) scale(0.83,1)" x="0" y="3.3" text-anchor="middle" font-family="Liberation Sans" font-weight="bold" font-size="9.2" fill="#eef3fb" stroke="#eef3fb" stroke-width="0.45">TP–IRQ</text>
<text transform="translate(634.5,504.4) scale(0.83,1)" x="0" y="3.3" text-anchor="middle" font-family="Liberation Sans" font-weight="bold" font-size="9.2" fill="#eef3fb" stroke="#eef3fb" stroke-width="0.45">BL–CTRL</text>
<text transform="translate(598.3,522.2) scale(0.83,1)" x="0" y="3.3" text-anchor="middle" font-family="Liberation Sans" font-weight="bold" font-size="9.2" fill="#eef3fb" stroke="#eef3fb" stroke-width="0.45">TP–SCK</text>
<text transform="translate(634.5,522.2) scale(0.83,1)" x="0" y="3.3" text-anchor="middle" font-family="Liberation Sans" font-weight="bold" font-size="9.2" fill="#eef3fb" stroke="#eef3fb" stroke-width="0.45">TP–CS</text>
<text transform="translate(598.3,540.1) scale(0.83,1)" x="0" y="3.3" text-anchor="middle" font-family="Liberation Sans" font-weight="bold" font-size="9.2" fill="#eef3fb" stroke="#eef3fb" stroke-width="0.45">TP–SDO</text>
<text transform="translate(634.5,540.1) scale(0.83,1)" x="0" y="3.3" text-anchor="middle" font-family="Liberation Sans" font-weight="bold" font-size="9.2" fill="#eef3fb" stroke="#eef3fb" stroke-width="0.45">TP–SDI</text>
<text transform="translate(598.3,558.0) scale(0.72,1)" x="0" y="3.3" text-anchor="middle" font-family="Liberation Sans" font-weight="bold" font-size="9.2" fill="#eef3fb" stroke="#eef3fb" stroke-width="0.45">GND</text>
<text transform="translate(634.5,558.0) scale(0.83,1)" x="0" y="3.3" text-anchor="middle" font-family="Liberation Sans" font-weight="bold" font-size="9.2" fill="#eef3fb" stroke="#eef3fb" stroke-width="0.45">3V3</text>
<rect x="104.1" y="262.0" width="72.7" height="305" fill="#0c44a6"/>
<clipPath id="ltc"><rect x="104.1" y="262.0" width="72.7" height="305"/></clipPath>
<g clip-path="url(#ltc)">
<polygon points="138.4,567.0 176.8,567.0 176.8,478.0 138.4,516.0" fill="#125bc3"/>
<polygon points="104.0,549.0 177.0,549.0 177.0,567.0 104.0,567.0" fill="#125bc3"/>
<polyline points="143.0,262.0 143.0,418.0 23.0,538.0" fill="none" stroke="#2462cc" stroke-width="1.2" stroke-linejoin="miter" stroke-miterlimit="4" stroke-linecap="butt"/>
<polyline points="148.0,262.0 148.0,420.0 28.0,540.0" fill="none" stroke="#2462cc" stroke-width="1.2" stroke-linejoin="miter" stroke-miterlimit="4" stroke-linecap="butt"/>
<polyline points="153.0,262.0 153.0,422.0 33.0,542.0" fill="none" stroke="#2462cc" stroke-width="1.2" stroke-linejoin="miter" stroke-miterlimit="4" stroke-linecap="butt"/>
<polyline points="158.0,262.0 158.0,424.0 38.0,544.0" fill="none" stroke="#2462cc" stroke-width="1.2" stroke-linejoin="miter" stroke-miterlimit="4" stroke-linecap="butt"/>
<polyline points="163.0,262.0 163.0,426.0 43.0,546.0" fill="none" stroke="#2462cc" stroke-width="1.2" stroke-linejoin="miter" stroke-miterlimit="4" stroke-linecap="butt"/>
<polyline points="168.0,262.0 168.0,428.0 48.0,548.0" fill="none" stroke="#2462cc" stroke-width="1.2" stroke-linejoin="miter" stroke-miterlimit="4" stroke-linecap="butt"/>
<polyline points="173.0,262.0 173.0,430.0 53.0,550.0" fill="none" stroke="#2462cc" stroke-width="1.2" stroke-linejoin="miter" stroke-miterlimit="4" stroke-linecap="butt"/>
<polyline points="177.0,430.0 104.0,503.0" fill="none" stroke="#2462cc" stroke-width="1.1" stroke-linejoin="miter" stroke-miterlimit="4" stroke-linecap="butt"/>
<polyline points="177.0,441.0 104.0,514.0" fill="none" stroke="#2462cc" stroke-width="1.1" stroke-linejoin="miter" stroke-miterlimit="4" stroke-linecap="butt"/>
<polyline points="177.0,452.0 104.0,525.0" fill="none" stroke="#2462cc" stroke-width="1.1" stroke-linejoin="miter" stroke-miterlimit="4" stroke-linecap="butt"/>
<polyline points="177.0,463.0 104.0,536.0" fill="none" stroke="#2462cc" stroke-width="1.1" stroke-linejoin="miter" stroke-miterlimit="4" stroke-linecap="butt"/>
<polyline points="177.0,474.0 104.0,547.0" fill="none" stroke="#2462cc" stroke-width="1.1" stroke-linejoin="miter" stroke-miterlimit="4" stroke-linecap="butt"/>
<polyline points="177.0,485.0 104.0,558.0" fill="none" stroke="#2462cc" stroke-width="1.1" stroke-linejoin="miter" stroke-miterlimit="4" stroke-linecap="butt"/>
<polyline points="177.0,496.0 104.0,569.0" fill="none" stroke="#2462cc" stroke-width="1.1" stroke-linejoin="miter" stroke-miterlimit="4" stroke-linecap="butt"/>
<polyline points="177.0,507.0 104.0,580.0" fill="none" stroke="#2462cc" stroke-width="1.1" stroke-linejoin="miter" stroke-miterlimit="4" stroke-linecap="butt"/>
</g>
<rect x="104.1" y="262.0" width="72.7" height="305.0" fill="none" stroke="#e9eef8" stroke-width="1.6"/>
<line x1="138.4" y1="262.0" x2="138.4" y2="567.0" stroke="#e9eef8" stroke-width="1.6"/>
<line x1="104.1" y1="279.9" x2="176.8" y2="279.9" stroke="#e9eef8" stroke-width="1.6"/>
<line x1="104.1" y1="297.9" x2="176.8" y2="297.9" stroke="#e9eef8" stroke-width="1.6"/>
<line x1="104.1" y1="315.8" x2="176.8" y2="315.8" stroke="#e9eef8" stroke-width="1.6"/>
<line x1="104.1" y1="333.8" x2="176.8" y2="333.8" stroke="#e9eef8" stroke-width="1.6"/>
<line x1="104.1" y1="351.7" x2="176.8" y2="351.7" stroke="#e9eef8" stroke-width="1.6"/>
<line x1="104.1" y1="369.6" x2="176.8" y2="369.6" stroke="#e9eef8" stroke-width="1.6"/>
<line x1="104.1" y1="387.6" x2="176.8" y2="387.6" stroke="#e9eef8" stroke-width="1.6"/>
<line x1="104.1" y1="405.5" x2="176.8" y2="405.5" stroke="#e9eef8" stroke-width="1.6"/>
<line x1="104.1" y1="423.5" x2="176.8" y2="423.5" stroke="#e9eef8" stroke-width="1.6"/>
<line x1="104.1" y1="441.4" x2="176.8" y2="441.4" stroke="#e9eef8" stroke-width="1.6"/>
<line x1="104.1" y1="459.4" x2="176.8" y2="459.4" stroke="#e9eef8" stroke-width="1.6"/>
<line x1="104.1" y1="477.3" x2="176.8" y2="477.3" stroke="#e9eef8" stroke-width="1.6"/>
<line x1="104.1" y1="495.2" x2="176.8" y2="495.2" stroke="#e9eef8" stroke-width="1.6"/>
<line x1="104.1" y1="513.2" x2="176.8" y2="513.2" stroke="#e9eef8" stroke-width="1.6"/>
<line x1="104.1" y1="531.1" x2="176.8" y2="531.1" stroke="#e9eef8" stroke-width="1.6"/>
<line x1="104.1" y1="549.1" x2="176.8" y2="549.1" stroke="#e9eef8" stroke-width="1.6"/>
<text transform="translate(121.2,272.0) rotate(180) scale(0.83,1)" x="0" y="3.3" text-anchor="middle" font-family="Liberation Sans" font-weight="bold" font-size="9.2" fill="#eef3fb" stroke="#eef3fb" stroke-width="0.45">3V3</text>
<text transform="translate(157.6,272.0) rotate(180) scale(0.72,1)" x="0" y="3.3" text-anchor="middle" font-family="Liberation Sans" font-weight="bold" font-size="9.2" fill="#eef3fb" stroke="#eef3fb" stroke-width="0.45">GND</text>
<text transform="translate(121.2,289.9) rotate(180) scale(0.83,1)" x="0" y="3.3" text-anchor="middle" font-family="Liberation Sans" font-weight="bold" font-size="9.2" fill="#eef3fb" stroke="#eef3fb" stroke-width="0.45">TP–SDI</text>
<text transform="translate(157.6,289.9) rotate(180) scale(0.83,1)" x="0" y="3.3" text-anchor="middle" font-family="Liberation Sans" font-weight="bold" font-size="9.2" fill="#eef3fb" stroke="#eef3fb" stroke-width="0.45">TP–SDO</text>
<text transform="translate(121.2,307.9) rotate(180) scale(0.83,1)" x="0" y="3.3" text-anchor="middle" font-family="Liberation Sans" font-weight="bold" font-size="9.2" fill="#eef3fb" stroke="#eef3fb" stroke-width="0.45">TP–CS</text>
<text transform="translate(157.6,307.9) rotate(180) scale(0.83,1)" x="0" y="3.3" text-anchor="middle" font-family="Liberation Sans" font-weight="bold" font-size="9.2" fill="#eef3fb" stroke="#eef3fb" stroke-width="0.45">TP–SCK</text>
<text transform="translate(121.2,325.8) rotate(180) scale(0.83,1)" x="0" y="3.3" text-anchor="middle" font-family="Liberation Sans" font-weight="bold" font-size="9.2" fill="#eef3fb" stroke="#eef3fb" stroke-width="0.45">BL–CTRL</text>
<text transform="translate(157.6,325.8) rotate(180) scale(0.83,1)" x="0" y="3.3" text-anchor="middle" font-family="Liberation Sans" font-weight="bold" font-size="9.2" fill="#eef3fb" stroke="#eef3fb" stroke-width="0.45">TP–IRQ</text>
<text transform="translate(121.2,343.7) rotate(180) scale(0.83,1)" x="0" y="3.3" text-anchor="middle" font-family="Liberation Sans" font-weight="bold" font-size="9.2" fill="#eef3fb" stroke="#eef3fb" stroke-width="0.45">BL–VCC</text>
<text transform="translate(157.6,343.7) rotate(180) scale(0.72,1)" x="0" y="3.3" text-anchor="middle" font-family="Liberation Sans" font-weight="bold" font-size="9.2" fill="#eef3fb" stroke="#eef3fb" stroke-width="0.45">GND</text>
<text transform="translate(121.2,361.7) rotate(180) scale(0.83,1)" x="0" y="3.3" text-anchor="middle" font-family="Liberation Sans" font-weight="bold" font-size="9.2" fill="#eef3fb" stroke="#eef3fb" stroke-width="0.45">RST</text>
<text transform="translate(157.6,361.7) rotate(180) scale(0.83,1)" x="0" y="3.3" text-anchor="middle" font-family="Liberation Sans" font-weight="bold" font-size="9.2" fill="#eef3fb" stroke="#eef3fb" stroke-width="0.45">NC</text>
<text transform="translate(121.2,379.6) rotate(180) scale(0.83,1)" x="0" y="3.3" text-anchor="middle" font-family="Liberation Sans" font-weight="bold" font-size="9.2" fill="#eef3fb" stroke="#eef3fb" stroke-width="0.45">WR</text>
<text transform="translate(157.6,379.6) rotate(180) scale(0.83,1)" x="0" y="3.3" text-anchor="middle" font-family="Liberation Sans" font-weight="bold" font-size="9.2" fill="#eef3fb" stroke="#eef3fb" stroke-width="0.45">RD</text>
<text transform="translate(121.2,397.6) rotate(180) scale(0.83,1)" x="0" y="3.3" text-anchor="middle" font-family="Liberation Sans" font-weight="bold" font-size="9.2" fill="#eef3fb" stroke="#eef3fb" stroke-width="0.45">LCD–CS</text>
<text transform="translate(157.6,397.6) rotate(180) scale(0.83,1)" x="0" y="3.3" text-anchor="middle" font-family="Liberation Sans" font-weight="bold" font-size="9.2" fill="#eef3fb" stroke="#eef3fb" stroke-width="0.45">RS</text>
<text transform="translate(121.2,415.5) rotate(180) scale(0.83,1)" x="0" y="3.3" text-anchor="middle" font-family="Liberation Sans" font-weight="bold" font-size="9.2" fill="#eef3fb" stroke="#eef3fb" stroke-width="0.45">D14</text>
<text transform="translate(157.6,415.5) rotate(180) scale(0.83,1)" x="0" y="3.3" text-anchor="middle" font-family="Liberation Sans" font-weight="bold" font-size="9.2" fill="#eef3fb" stroke="#eef3fb" stroke-width="0.45">D15</text>
<text transform="translate(121.2,433.4) rotate(180) scale(0.83,1)" x="0" y="3.3" text-anchor="middle" font-family="Liberation Sans" font-weight="bold" font-size="9.2" fill="#eef3fb" stroke="#eef3fb" stroke-width="0.45">D12</text>
<text transform="translate(157.6,433.4) rotate(180) scale(0.83,1)" x="0" y="3.3" text-anchor="middle" font-family="Liberation Sans" font-weight="bold" font-size="9.2" fill="#eef3fb" stroke="#eef3fb" stroke-width="0.45">D13</text>
<text transform="translate(121.2,451.4) rotate(180) scale(0.83,1)" x="0" y="3.3" text-anchor="middle" font-family="Liberation Sans" font-weight="bold" font-size="9.2" fill="#eef3fb" stroke="#eef3fb" stroke-width="0.45">D10</text>
<text transform="translate(157.6,451.4) rotate(180) scale(0.83,1)" x="0" y="3.3" text-anchor="middle" font-family="Liberation Sans" font-weight="bold" font-size="9.2" fill="#eef3fb" stroke="#eef3fb" stroke-width="0.45">D11</text>
<text transform="translate(121.2,469.3) rotate(180) scale(0.83,1)" x="0" y="3.3" text-anchor="middle" font-family="Liberation Sans" font-weight="bold" font-size="9.2" fill="#eef3fb" stroke="#eef3fb" stroke-width="0.45">D8</text>
<text transform="translate(157.6,469.3) rotate(180) scale(0.83,1)" x="0" y="3.3" text-anchor="middle" font-family="Liberation Sans" font-weight="bold" font-size="9.2" fill="#eef3fb" stroke="#eef3fb" stroke-width="0.45">D9</text>
<text transform="translate(121.2,487.3) rotate(180) scale(0.83,1)" x="0" y="3.3" text-anchor="middle" font-family="Liberation Sans" font-weight="bold" font-size="9.2" fill="#eef3fb" stroke="#eef3fb" stroke-width="0.45">D6</text>
<text transform="translate(157.6,487.3) rotate(180) scale(0.83,1)" x="0" y="3.3" text-anchor="middle" font-family="Liberation Sans" font-weight="bold" font-size="9.2" fill="#eef3fb" stroke="#eef3fb" stroke-width="0.45">D7</text>
<text transform="translate(121.2,505.2) rotate(180) scale(0.83,1)" x="0" y="3.3" text-anchor="middle" font-family="Liberation Sans" font-weight="bold" font-size="9.2" fill="#eef3fb" stroke="#eef3fb" stroke-width="0.45">D4</text>
<text transform="translate(157.6,505.2) rotate(180) scale(0.83,1)" x="0" y="3.3" text-anchor="middle" font-family="Liberation Sans" font-weight="bold" font-size="9.2" fill="#eef3fb" stroke="#eef3fb" stroke-width="0.45">D5</text>
<text transform="translate(121.2,523.1) rotate(180) scale(0.83,1)" x="0" y="3.3" text-anchor="middle" font-family="Liberation Sans" font-weight="bold" font-size="9.2" fill="#eef3fb" stroke="#eef3fb" stroke-width="0.45">D2</text>
<text transform="translate(157.6,523.1) rotate(180) scale(0.83,1)" x="0" y="3.3" text-anchor="middle" font-family="Liberation Sans" font-weight="bold" font-size="9.2" fill="#eef3fb" stroke="#eef3fb" stroke-width="0.45">D3</text>
<text transform="translate(121.2,541.1) rotate(180) scale(0.83,1)" x="0" y="3.3" text-anchor="middle" font-family="Liberation Sans" font-weight="bold" font-size="9.2" fill="#eef3fb" stroke="#eef3fb" stroke-width="0.45">D0</text>
<text transform="translate(157.6,541.1) rotate(180) scale(0.83,1)" x="0" y="3.3" text-anchor="middle" font-family="Liberation Sans" font-weight="bold" font-size="9.2" fill="#eef3fb" stroke="#eef3fb" stroke-width="0.45">D1</text>
<text transform="translate(121.2,559.0) rotate(180) scale(0.83,1)" x="0" y="3.3" text-anchor="middle" font-family="Liberation Sans" font-weight="bold" font-size="9.2" fill="#eef3fb" stroke="#eef3fb" stroke-width="0.45">5V–IN</text>
<text transform="translate(157.6,559.0) rotate(180) scale(0.72,1)" x="0" y="3.3" text-anchor="middle" font-family="Liberation Sans" font-weight="bold" font-size="9.2" fill="#eef3fb" stroke="#eef3fb" stroke-width="0.45">GND</text>
<rect x="671.5" y="266" width="33" height="298" fill="#18181b"/>
<rect x="670.0" y="262.7" width="35.6" height="17.1" rx="5.5" fill="#47494e"/>
<rect x="670.8" y="263.5" width="34.0" height="15.5" rx="4.8" fill="#2b2b2e"/>
<rect x="670.0" y="280.6" width="35.6" height="17.1" rx="5.5" fill="#47494e"/>
<rect x="670.8" y="281.4" width="34.0" height="15.5" rx="4.8" fill="#2b2b2e"/>
<rect x="670.0" y="298.6" width="35.6" height="17.1" rx="5.5" fill="#47494e"/>
<rect x="670.8" y="299.4" width="34.0" height="15.5" rx="4.8" fill="#2b2b2e"/>
<rect x="670.0" y="316.5" width="35.6" height="17.1" rx="5.5" fill="#47494e"/>
<rect x="670.8" y="317.3" width="34.0" height="15.5" rx="4.8" fill="#2b2b2e"/>
<rect x="670.0" y="334.4" width="35.6" height="17.1" rx="5.5" fill="#47494e"/>
<rect x="670.8" y="335.2" width="34.0" height="15.5" rx="4.8" fill="#2b2b2e"/>
<rect x="670.0" y="352.4" width="35.6" height="17.1" rx="5.5" fill="#47494e"/>
<rect x="670.8" y="353.2" width="34.0" height="15.5" rx="4.8" fill="#2b2b2e"/>
<rect x="670.0" y="370.3" width="35.6" height="17.1" rx="5.5" fill="#47494e"/>
<rect x="670.8" y="371.1" width="34.0" height="15.5" rx="4.8" fill="#2b2b2e"/>
<rect x="670.0" y="388.2" width="35.6" height="17.1" rx="5.5" fill="#47494e"/>
<rect x="670.8" y="389.0" width="34.0" height="15.5" rx="4.8" fill="#2b2b2e"/>
<rect x="670.0" y="406.1" width="35.6" height="17.1" rx="5.5" fill="#47494e"/>
<rect x="670.8" y="406.9" width="34.0" height="15.5" rx="4.8" fill="#2b2b2e"/>
<rect x="670.0" y="424.1" width="35.6" height="17.1" rx="5.5" fill="#47494e"/>
<rect x="670.8" y="424.9" width="34.0" height="15.5" rx="4.8" fill="#2b2b2e"/>
<rect x="670.0" y="442.0" width="35.6" height="17.1" rx="5.5" fill="#47494e"/>
<rect x="670.8" y="442.8" width="34.0" height="15.5" rx="4.8" fill="#2b2b2e"/>
<rect x="670.0" y="459.9" width="35.6" height="17.1" rx="5.5" fill="#47494e"/>
<rect x="670.8" y="460.7" width="34.0" height="15.5" rx="4.8" fill="#2b2b2e"/>
<rect x="670.0" y="477.9" width="35.6" height="17.1" rx="5.5" fill="#47494e"/>
<rect x="670.8" y="478.7" width="34.0" height="15.5" rx="4.8" fill="#2b2b2e"/>
<rect x="670.0" y="495.8" width="35.6" height="17.1" rx="5.5" fill="#47494e"/>
<rect x="670.8" y="496.6" width="34.0" height="15.5" rx="4.8" fill="#2b2b2e"/>
<rect x="670.0" y="513.7" width="35.6" height="17.1" rx="5.5" fill="#47494e"/>
<rect x="670.8" y="514.5" width="34.0" height="15.5" rx="4.8" fill="#2b2b2e"/>
<rect x="670.0" y="531.6" width="35.6" height="17.1" rx="5.5" fill="#47494e"/>
<rect x="670.8" y="532.5" width="34.0" height="15.5" rx="4.8" fill="#2b2b2e"/>
<rect x="670.0" y="549.6" width="35.6" height="17.1" rx="5.5" fill="#47494e"/>
<rect x="670.8" y="550.4" width="34.0" height="15.5" rx="4.8" fill="#2b2b2e"/>
<rect x="673" y="279.3" width="30" height="1.8" fill="#141416"/>
<rect x="673" y="297.3" width="30" height="1.8" fill="#141416"/>
<rect x="673" y="315.2" width="30" height="1.8" fill="#141416"/>
<rect x="673" y="333.1" width="30" height="1.8" fill="#141416"/>
<rect x="673" y="351.1" width="30" height="1.8" fill="#141416"/>
<rect x="673" y="369.0" width="30" height="1.8" fill="#141416"/>
<rect x="673" y="386.9" width="30" height="1.8" fill="#141416"/>
<rect x="673" y="404.8" width="30" height="1.8" fill="#141416"/>
<rect x="673" y="422.8" width="30" height="1.8" fill="#141416"/>
<rect x="673" y="440.7" width="30" height="1.8" fill="#141416"/>
<rect x="673" y="458.6" width="30" height="1.8" fill="#141416"/>
<rect x="673" y="476.6" width="30" height="1.8" fill="#141416"/>
<rect x="673" y="494.5" width="30" height="1.8" fill="#141416"/>
<rect x="673" y="512.4" width="30" height="1.8" fill="#141416"/>
<rect x="673" y="530.4" width="30" height="1.8" fill="#141416"/>
<rect x="673" y="548.3" width="30" height="1.8" fill="#141416"/>
<rect x="682.3" y="269.3" width="3.4" height="3.4" fill="#d8d8d8"/>
<rect x="700.3" y="269.3" width="3.4" height="3.4" fill="#d8d8d8"/>
<rect x="682.3" y="287.2" width="3.4" height="3.4" fill="#d8d8d8"/>
<rect x="700.3" y="287.2" width="3.4" height="3.4" fill="#d8d8d8"/>
<rect x="682.3" y="305.2" width="3.4" height="3.4" fill="#d8d8d8"/>
<rect x="700.3" y="305.2" width="3.4" height="3.4" fill="#d8d8d8"/>
<rect x="682.3" y="323.1" width="3.4" height="3.4" fill="#d8d8d8"/>
<rect x="700.3" y="323.1" width="3.4" height="3.4" fill="#d8d8d8"/>
<rect x="682.3" y="341.0" width="3.4" height="3.4" fill="#d8d8d8"/>
<rect x="700.3" y="341.0" width="3.4" height="3.4" fill="#d8d8d8"/>
<rect x="682.3" y="359.0" width="3.4" height="3.4" fill="#d8d8d8"/>
<rect x="700.3" y="359.0" width="3.4" height="3.4" fill="#d8d8d8"/>
<rect x="682.3" y="376.9" width="3.4" height="3.4" fill="#d8d8d8"/>
<rect x="700.3" y="376.9" width="3.4" height="3.4" fill="#d8d8d8"/>
<rect x="682.3" y="394.8" width="3.4" height="3.4" fill="#d8d8d8"/>
<rect x="700.3" y="394.8" width="3.4" height="3.4" fill="#d8d8d8"/>
<rect x="682.3" y="412.7" width="3.4" height="3.4" fill="#d8d8d8"/>
<rect x="700.3" y="412.7" width="3.4" height="3.4" fill="#d8d8d8"/>
<rect x="682.3" y="430.7" width="3.4" height="3.4" fill="#d8d8d8"/>
<rect x="700.3" y="430.7" width="3.4" height="3.4" fill="#d8d8d8"/>
<rect x="682.3" y="448.6" width="3.4" height="3.4" fill="#d8d8d8"/>
<rect x="700.3" y="448.6" width="3.4" height="3.4" fill="#d8d8d8"/>
<rect x="682.3" y="466.5" width="3.4" height="3.4" fill="#d8d8d8"/>
<rect x="700.3" y="466.5" width="3.4" height="3.4" fill="#d8d8d8"/>
<rect x="682.3" y="484.5" width="3.4" height="3.4" fill="#d8d8d8"/>
<rect x="700.3" y="484.5" width="3.4" height="3.4" fill="#d8d8d8"/>
<rect x="682.3" y="502.4" width="3.4" height="3.4" fill="#d8d8d8"/>
<rect x="700.3" y="502.4" width="3.4" height="3.4" fill="#d8d8d8"/>
<rect x="682.3" y="520.3" width="3.4" height="3.4" fill="#d8d8d8"/>
<rect x="700.3" y="520.3" width="3.4" height="3.4" fill="#d8d8d8"/>
<rect x="682.3" y="538.2" width="3.4" height="3.4" fill="#d8d8d8"/>
<rect x="700.3" y="538.2" width="3.4" height="3.4" fill="#d8d8d8"/>
<rect x="682.3" y="556.2" width="3.4" height="3.4" fill="#d8d8d8"/>
<rect x="700.3" y="556.2" width="3.4" height="3.4" fill="#d8d8d8"/>
<text transform="translate(281,237.6) scale(0.89,1)" x="-1" y="0" font-family="Liberation Sans" font-weight="bold" font-size="15.5" fill="#ffffff" stroke="#ffffff" stroke-width="0.1">3.2" TFT LCD Display Module</text>
<text transform="translate(471,598) rotate(180) scale(0.89,1)" x="-1" y="0" font-family="Liberation Sans" font-weight="bold" font-size="15.5" fill="#ffffff" stroke="#ffffff" stroke-width="0.1">3.2" TFT LCD Display Module</text>
</svg>
</body></html>
